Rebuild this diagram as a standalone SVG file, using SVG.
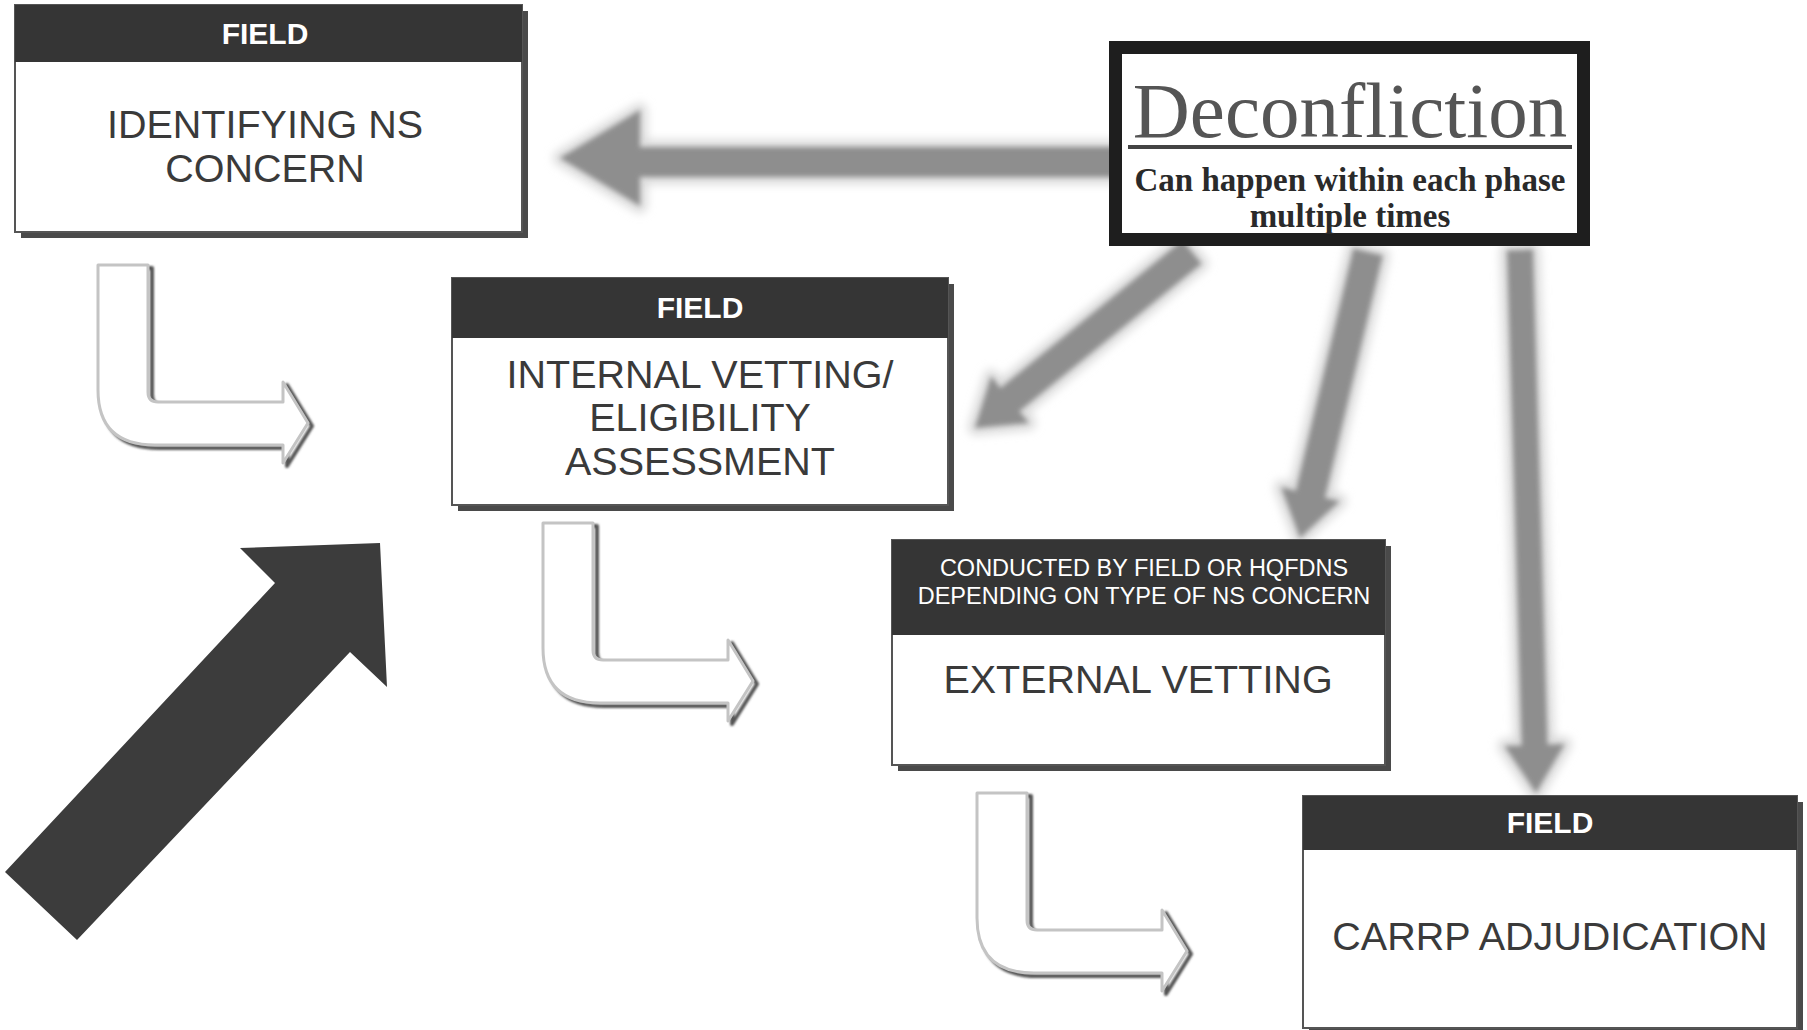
<svg xmlns="http://www.w3.org/2000/svg" width="1807" height="1030" viewBox="0 0 1807 1030">
<defs>
<style>
.hdr{fill:#353535}
.body{fill:#fff;stroke:#555;stroke-width:2}
.shadow{fill:#4a4a4a}
.ftitle{font-family:"Liberation Sans",Arial,sans-serif;font-weight:bold;font-size:30px;fill:#fff;text-anchor:middle}
.htxt{font-family:"Liberation Sans",Arial,sans-serif;font-size:23.5px;fill:#fff;text-anchor:middle}
.btxt{font-family:"Liberation Sans",Arial,sans-serif;font-size:39.5px;fill:#3a3a3a;text-anchor:middle}
.conn{fill:#8e8e8e}
.halo{fill:none;stroke:#dadada;stroke-width:14;stroke-linejoin:round}
.lsh{fill:none;stroke:#555;stroke-width:4;stroke-linejoin:round}
.lmain{fill:#fff;stroke:#c4c4c4;stroke-width:3;stroke-linejoin:round}
.serif{font-family:"Liberation Serif","Times New Roman",serif;text-anchor:middle}
</style>
<filter id="blur" x="-20%" y="-20%" width="140%" height="140%"><feGaussianBlur stdDeviation="2.5"/></filter>
<filter id="blur2" x="-20%" y="-20%" width="140%" height="140%"><feGaussianBlur stdDeviation="5"/></filter>
<filter id="soft" x="-10%" y="-10%" width="120%" height="120%"><feGaussianBlur stdDeviation="1.2"/></filter>
<path id="L" d="M98,265 L148,265 L148,392 Q148,402 158,402 L283,402 L283,382 L308,423 L283,463 L283,445 L155,445 Q98,445 98,390 Z"/>
</defs>
<rect width="1807" height="1030" fill="#fff"/>

<g id="connectors">
  <g filter="url(#blur2)">
    <polygon class="halo" points="1115,147 640,147 640,110 560,158 640,206 640,177 1115,177"/>
    <polygon class="halo" points="1182.55,240.35 1000.5,388 991.05,376.35 975,428 1028.85,422.95 1019.4,411.3 1201.45,263.65"/>
    <polygon class="halo" points="1353.41,248.53 1295.82,490.75 1281.23,487.28 1300,538 1339.59,501.16 1325,497.69 1382.59,255.47"/>
    <polygon class="halo" points="1507,250.4 1521.6,745.4 1504.6,745.9 1536,793 1564.6,744.1 1547.6,744.6 1533,249.6"/>
  </g>
  <g filter="url(#blur)">
    <polygon id="c-top" class="conn" points="1115,147 640,147 640,110 560,158 640,206 640,177 1115,177"/>
    <polygon id="c-internal" class="conn" points="1182.55,240.35 1000.5,388 991.05,376.35 975,428 1028.85,422.95 1019.4,411.3 1201.45,263.65"/>
    <polygon id="c-external" class="conn" points="1353.41,248.53 1295.82,490.75 1281.23,487.28 1300,538 1339.59,501.16 1325,497.69 1382.59,255.47"/>
    <polygon id="c-carrp" class="conn" points="1507,250.4 1521.6,745.4 1504.6,745.9 1536,793 1564.6,744.1 1547.6,744.6 1533,249.6"/>
  </g>
  <g id="flow1">
    <use href="#L" class="lsh" transform="translate(4,3)" filter="url(#soft)"/>
    <use href="#L" class="lmain"/>
  </g>
  <g id="flow2" transform="translate(445,258)">
    <use href="#L" class="lsh" transform="translate(4,3)" filter="url(#soft)"/>
    <use href="#L" class="lmain"/>
  </g>
  <g id="flow3" transform="translate(879,528)">
    <use href="#L" class="lsh" transform="translate(4,3)" filter="url(#soft)"/>
    <use href="#L" class="lmain"/>
  </g>
  <polygon id="big-arrow" fill="#3c3c3c" points="5,872 275,583 240,548 380,543 387,687 350,652 77,940"/>
</g>

<g id="node-identifying">
  <rect class="shadow" x="21" y="11" width="507" height="227"/>
  <rect class="body" x="15" y="5" width="507" height="227"/>
  <rect class="hdr" x="15" y="5" width="507" height="57"/>
  <text class="ftitle" x="265" y="44">FIELD</text>
  <text class="btxt" x="265" y="138">IDENTIFYING NS</text>
  <text class="btxt" x="265" y="182">CONCERN</text>
</g>

<g id="node-deconfliction">
  <rect x="1115.5" y="47.5" width="468" height="192" fill="#fff" stroke="#1e1e1e" stroke-width="13"/>
  <text class="serif" x="1350" y="137" font-size="79" fill="#555">Deconfliction</text>
  <rect x="1128" y="145" width="444" height="4" fill="#444"/>
  <text class="serif" x="1350" y="191" font-size="33" font-weight="bold" fill="#2a2a2a">Can happen within each phase</text>
  <text class="serif" x="1350" y="227" font-size="33" font-weight="bold" fill="#2a2a2a">multiple times</text>
</g>

<g id="node-internal">
  <rect class="shadow" x="458" y="284" width="496" height="227"/>
  <rect class="body" x="452" y="278" width="496" height="227"/>
  <rect class="hdr" x="452" y="278" width="496" height="60"/>
  <text class="ftitle" x="700" y="318">FIELD</text>
  <text class="btxt" x="700" y="388">INTERNAL VETTING/</text>
  <text class="btxt" x="700" y="431">ELIGIBILITY</text>
  <text class="btxt" x="700" y="475">ASSESSMENT</text>
</g>

<g id="node-external">
  <rect class="shadow" x="898" y="546" width="493" height="225"/>
  <rect class="body" x="892" y="540" width="493" height="225"/>
  <rect class="hdr" x="892" y="540" width="493" height="95"/>
  <text class="htxt" x="1144" y="576">CONDUCTED BY FIELD OR HQFDNS</text>
  <text class="htxt" x="1144" y="604">DEPENDING ON TYPE OF NS CONCERN</text>
  <text class="btxt" x="1138" y="693">EXTERNAL VETTING</text>
</g>

<g id="node-carrp">
  <rect class="shadow" x="1309" y="802" width="494" height="232"/>
  <rect class="body" x="1303" y="796" width="494" height="232"/>
  <rect class="hdr" x="1303" y="796" width="494" height="54"/>
  <text class="ftitle" x="1550" y="833">FIELD</text>
  <text class="btxt" x="1550" y="950">CARRP ADJUDICATION</text>
</g>
</svg>
